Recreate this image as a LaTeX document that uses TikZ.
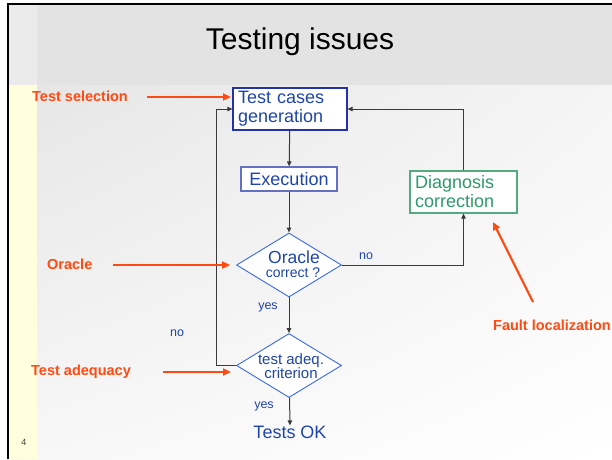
\documentclass[tikz,border=0pt]{standalone}
\usepackage{fontspec}
\setmainfont{Liberation Sans}
\usetikzlibrary{shapes.geometric,arrows.meta,shadings}
\definecolor{txtblue}{HTML}{1F45A8}
\definecolor{boxblue}{HTML}{2233A8}
\definecolor{lightblue}{HTML}{3A6AE0}
\definecolor{greenish}{HTML}{2F9A68}
\definecolor{greenbox}{HTML}{55AA80}
\definecolor{hint}{HTML}{FF4A12}
\definecolor{band}{HTML}{E3E3E3}
\definecolor{strip}{HTML}{FFFFDD}
\definecolor{wire}{HTML}{3A3A3A}
\newcommand{\fs}[2]{\fontsize{#1}{#2}\selectfont}
\tikzset{
  x=1pt, y=-1pt,
  procbox/.style={draw=boxblue, line width=1.2pt, fill=white, text=txtblue,
    font=\fs{18}{19}, align=left, inner sep=0pt},
  decision/.style={draw=lightblue, line width=0.9pt, fill=white, shape=diamond,
    inner sep=0pt, minimum width=105pt, minimum height=64pt},
  dtext/.style={text=txtblue, align=center, inner sep=0pt},
  conn/.style={draw=wire, line width=1pt, -{Triangle[length=5pt,width=4.5pt]}},
  lbl/.style={text=txtblue, font=\fs{12.5}{14}, inner sep=0pt},
  hintlbl/.style={text=hint, font=\bfseries\fs{14.5}{16}, inner sep=0pt},
  hintarrow/.style={draw=hint, line width=2.2pt, -{Triangle[length=8pt,width=7pt]}},
}
\begin{document}
\begin{tikzpicture}
\useasboundingbox (0,0) rectangle (612,459);
% slide background
\shade[upper left=black!10, upper right=black!4, lower left=black!3, lower right=white]
  (9,85) rectangle (612,459);
\fill[band] (9,5) rectangle (612,85);
\fill[black!8] (9,5) rectangle (37,85);
\fill[strip] (9,85) rectangle (37,459);
\draw[black, line width=2pt] (8,459) -- (8,4) -- (612,4);

% title and page number
\node[font=\fs{30}{32}, inner sep=0pt] (title) at (300,42) {Testing issues};
\node[font=\fs{9}{10}, text=black!75, inner sep=0pt] (pagenum) at (24,442) {4};

% process boxes
\node[procbox, minimum width=114pt, minimum height=42pt, text width=104pt]
  (gen) at (290,109) {Test cases\\generation};
\node[procbox, draw=boxblue!70, minimum width=96pt, minimum height=24pt, align=center]
  (exe) at (289,179) {Execution};
\node[procbox, draw=greenbox, text=greenish, minimum width=107pt, minimum height=42pt,
  text width=97pt] (diag) at (463.5,192) {Diagnosis\\correction};

% decisions
\node[decision] (orc) at (289,265) {};
\node[dtext, text=txtblue, font=\fs{17.5}{18}, inner sep=0pt] (orctxt) at (294,257) {Oracle};
\node[dtext, text=txtblue, font=\fs{14}{15}, inner sep=0pt] (corrtxt) at (293,273) {correct ?};
\node[decision] (adq) at (289,365.5) {};
\node[dtext, font=\fs{15}{14}] (adqtxt) at (291,366) {test adeq.\\criterion};

\node[text=txtblue, font=\fs{18}{19}, inner sep=0pt] (ok) at (290,432) {Tests OK};

% flow connectors
\draw[conn] (gen) -- (exe);
\draw[conn] (exe) -- (orc);
\draw[conn] (orc) -- (adq);
\draw[conn] (adq) -- (ok.north);
\draw[conn] (orc.east) -| (diag.south);
\draw[conn] (diag.north) |- (gen.east);
\coordinate (back) at (216,365.5);
\draw[conn] (adq.west) -- (back) |- (gen.west);

\node[lbl] (yes1) at (268,307) {yes};
\node[lbl] (yes2) at (264,406) {yes};
\node[lbl] (no1) at (366,256) {no};
\node[lbl] (no2) at (177,333) {no};

% issue annotations
\node[hintlbl, anchor=west] (sel) at (32,96) {Test selection};
\node[hintlbl, anchor=west] (ora) at (47,264) {Oracle};
\node[hintlbl, anchor=west] (ade) at (31,372) {Test adequacy};
\node[hintlbl, anchor=east] (flt) at (611,325) {Fault localization};

\coordinate (selTip) at (231,97);
\coordinate (adeTip) at (231,372);
\coordinate (fltTail) at (533,302);
\coordinate (fltTip) at (493,222);
\draw[hintarrow] (147,97) -- (selTip);
\draw[hintarrow] (113,265) -- ([xshift=-6pt]orc.west);
\draw[hintarrow] (163,372) -- (adeTip);
\draw[hintarrow] (fltTail) -- (fltTip);
\end{tikzpicture}
\end{document}
